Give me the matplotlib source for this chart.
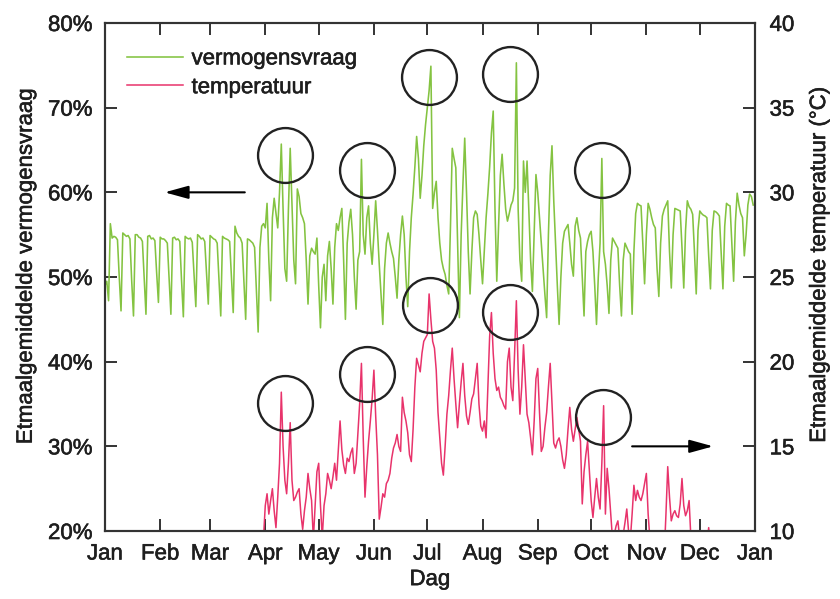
import numpy as np
import matplotlib
matplotlib.use("Agg")
import matplotlib.pyplot as plt
import matplotlib.patheffects as pe
from matplotlib.ticker import PercentFormatter
from matplotlib import transforms

plt.rcParams['font.family'] = ['Liberation Sans', 'DejaVu Sans']

# daily average power demand (% of peak), day 0 = 1 Jan
demand = [
    49.0, 49.5, 47.2, 56.3, 54.6, 54.8, 54.7,
    54.4, 50.0, 46.0, 55.2, 55.0, 54.8, 54.9,
    54.5, 49.5, 45.4, 55.0, 55.0, 54.7, 54.6,
    54.2, 50.0, 45.6, 54.8, 54.9, 54.5, 54.6,
    54.3, 50.5, 47.0, 54.7, 54.5, 54.5, 54.3,
    54.0, 49.8, 45.6, 54.6, 54.7, 54.4, 54.5,
    54.2, 49.5, 45.3, 54.8, 54.6, 54.5, 54.6,
    54.1, 50.2, 46.5, 55.0, 54.8, 54.5, 54.6,
    54.2, 50.5, 46.8, 54.9, 54.7, 54.5, 54.4,
    54.0, 49.6, 45.4, 54.8, 54.6, 54.5, 54.4,
    54.2, 50.0, 45.8, 56.0, 55.2, 54.8, 54.6,
    54.0, 49.5, 45.0, 54.5, 54.4, 54.2, 54.0,
    53.5, 48.5, 43.5, 53.5, 56.0, 56.3, 55.8,
    58.7, 52.0, 47.2, 57.0, 59.3, 57.5, 55.8,
    60.0, 65.7, 58.0, 51.0, 49.5, 58.0, 65.2,
    58.5, 52.0, 49.2, 60.4, 59.5, 57.5, 57.0,
    56.3, 52.0, 46.8, 52.5, 53.4, 53.0, 52.7,
    54.6, 49.0, 44.0, 50.0, 51.5, 47.2, 52.5,
    54.2, 51.0, 46.8, 53.5, 56.3, 55.5, 57.0,
    58.1, 52.0, 45.0, 54.0, 56.5, 58.0, 55.0,
    50.0, 46.2, 52.0, 53.0, 63.9, 55.0, 52.7,
    57.0, 58.4, 54.0, 51.5, 55.0, 59.0, 55.5,
    51.5, 48.0, 44.4, 51.0, 54.0, 55.2, 54.0,
    53.0, 52.2, 50.0, 47.5, 52.0, 55.0, 57.2,
    55.0, 50.0, 46.5, 53.0, 57.0, 59.8, 63.0,
    66.6, 64.0, 59.3, 62.0, 65.5, 68.0, 70.0,
    72.0, 74.9, 58.1, 60.0, 61.3, 57.0, 54.0,
    52.0, 51.0, 50.3, 49.0, 48.0, 56.0, 65.2,
    64.0, 62.9, 54.0, 45.2, 55.0, 61.0, 66.4,
    60.0, 53.0, 48.0, 53.0, 57.0, 57.8, 57.4,
    55.0, 52.0, 49.2, 53.0, 57.0, 59.8, 63.0,
    67.0, 69.6, 58.0, 49.5, 56.0, 62.0, 64.5,
    61.0, 58.0, 56.6, 57.5, 58.5, 59.0, 60.5,
    75.3, 58.0, 52.0, 49.5, 63.7, 60.0, 63.7,
    58.0, 52.0, 48.3, 55.0, 62.1, 60.0, 57.0,
    54.0, 51.0, 48.0, 45.2, 55.0, 62.0, 65.5,
    59.0, 54.0, 49.0, 44.4, 50.0, 54.0, 55.4,
    55.8, 56.2, 54.0, 51.5, 50.1, 56.0, 57.0,
    55.5, 54.6, 50.0, 45.4, 53.0, 54.2, 55.0,
    55.4, 53.0, 49.0, 44.4, 50.0, 54.0, 64.0,
    53.0, 51.5, 49.0, 45.7, 52.0, 54.6, 54.2,
    53.8, 53.4, 49.0, 45.4, 52.0, 54.0, 53.5,
    53.0, 52.7, 45.6, 53.0, 57.5, 58.7, 58.5,
    58.4, 54.0, 49.2, 55.0, 58.7, 58.0, 57.0,
    56.2, 55.8, 51.0, 47.7, 54.0, 57.2, 58.0,
    58.5, 59.0, 53.0, 48.7, 55.0, 58.1, 58.0,
    57.9, 57.8, 53.5, 48.7, 55.5, 59.0, 58.3,
    58.0, 57.4, 53.0, 48.0, 55.5, 57.8, 57.5,
    57.3, 57.2, 57.0, 52.5, 48.6, 55.5, 57.8,
    57.7, 57.5, 57.2, 53.0, 48.6, 56.0, 58.7,
    58.5, 58.4, 54.0, 49.5, 56.5, 59.9, 58.5,
    57.5, 57.0, 52.5, 55.0, 58.5, 59.8, 59.5,
    58.5,
]

# daily average temperature (deg C)
temperature = [
    4.5, 5.2, 3.8, 2.9, 3.5, 4.8, 5.5,
    3.2, 2.1, 1.5, 2.8, 4.0, 5.1, 4.4,
    3.6, 2.9, 3.3, 4.7, 6.2, 5.8, 4.9,
    3.1, 2.4, 3.0, 4.2, 5.0, 6.1, 5.3,
    4.6, 3.8, 2.7, 3.9, 5.4, 6.0, 5.2,
    4.1, 3.5, 4.8, 6.3, 7.0, 6.2, 5.5,
    4.4, 5.1, 6.4, 7.2, 6.6, 5.3, 4.7,
    5.6, 6.8, 7.5, 6.9, 5.8, 5.0, 6.1,
    7.0, 7.8, 6.7, 5.9, 6.6, 7.4, 8.1,
    7.3, 6.5, 7.1, 8.0, 8.6, 7.7, 6.9,
    7.6, 8.3, 8.9, 8.0, 7.4, 8.2, 8.8,
    9.1, 8.4, 7.9, 8.7, 9.3, 8.6, 8.1,
    8.8, 9.4, 9.0, 8.5, 9.2, 9.6, 11.5,
    12.2, 11.0, 11.8, 12.5, 11.2, 10.2, 12.0,
    14.0, 18.2, 15.0, 13.0, 12.2, 14.0, 16.4,
    13.0, 11.8, 12.0, 12.3, 12.5, 11.0, 10.1,
    11.2, 12.0, 13.4, 12.5, 11.8, 9.5, 11.5,
    13.5, 14.0, 11.5, 9.6, 11.5, 12.2, 13.4,
    13.0, 12.5, 13.2, 14.0, 13.0, 14.8, 16.5,
    14.8, 13.9, 13.4, 14.3, 14.1, 14.6, 14.9,
    13.4, 14.0, 15.8, 17.5, 19.9, 15.5, 12.0,
    13.8, 15.3, 16.5, 17.8, 19.5, 16.8, 14.5,
    10.7, 11.4, 12.2, 12.0, 12.8, 13.0, 13.4,
    14.3, 14.9, 15.2, 15.7, 15.0, 14.7, 17.9,
    17.0, 16.5, 15.8, 14.5, 14.1, 16.0, 18.5,
    20.2, 19.8, 19.4, 20.5, 21.2, 21.4, 21.6,
    24.0, 22.5, 21.2, 20.8, 19.5, 17.0, 15.5,
    14.0, 13.3, 15.0, 16.9, 18.0, 19.5, 20.8,
    19.0, 17.5, 16.1, 17.5, 18.8, 19.9, 18.0,
    16.8, 16.3, 17.0, 17.8, 18.1, 19.0, 19.9,
    17.5, 16.2, 15.9, 16.5, 15.5, 18.5, 21.5,
    22.9, 20.5, 19.0, 18.3, 18.5, 17.9, 17.7,
    17.4, 17.2, 20.0, 20.8, 18.5, 17.7, 20.5,
    23.6, 19.5, 16.9, 18.5, 21.0, 19.0, 16.9,
    16.4, 15.5, 14.5, 16.5, 19.0, 19.6, 17.0,
    14.7, 15.0, 16.1, 17.0, 18.5, 19.9, 17.5,
    15.2, 14.9, 15.3, 15.5, 15.0, 14.2, 13.7,
    14.5, 16.0, 17.3, 16.0, 15.3, 16.0, 16.7,
    16.0, 15.3, 11.6, 13.5, 14.5, 15.3, 13.5,
    11.8, 10.8, 12.0, 13.1, 12.0, 11.3, 14.0,
    17.4, 11.0, 13.7, 12.5, 11.0, 9.5, 9.8,
    10.3, 10.6, 9.6, 9.4, 9.8, 10.5, 11.3,
    10.0, 9.5, 11.0, 12.7, 11.8, 12.4, 12.0,
    11.8, 12.2, 12.8, 13.4, 11.0, 9.5, 8.5,
    8.0, 9.0, 8.2, 7.5, 8.8, 9.2, 8.5,
    11.0, 13.8, 12.0, 10.6, 11.0, 11.2, 10.9,
    10.8, 11.6, 13.1, 11.5, 10.9, 11.2, 11.8,
    9.6, 8.5, 7.8, 8.2, 7.0, 6.5, 7.4,
    8.1, 8.8, 9.3, 10.2, 9.0, 8.2, 7.1,
    6.4, 5.8, 6.6, 7.3, 6.0, 5.2, 4.6,
    5.5, 6.3, 5.0, 4.2, 3.5, 4.4, 5.6,
    6.2, 5.1, 4.0, 3.3, 4.5, 5.4, 6.0,
    5.2,
]

month_starts = [0, 31, 59, 90, 120, 151, 181, 212, 243, 273, 304, 334, 365]
month_names = ['Jan', 'Feb', 'Mar', 'Apr', 'May', 'Jun', 'Jul', 'Aug',
               'Sep', 'Oct', 'Nov', 'Dec', 'Jan']

# circled peaks (centre day)
demand_circles = [101, 147, 182, 227.5, 279]
temp_circles = [101, 147, 182.5, 227.5, 279.5]

days = np.arange(len(demand))
demand = np.array(demand)
temperature = np.array(temperature)

green = '#84c341'
red = '#e8336b'
dark = '#333333'
txt = '#1e1e1e'
fs = 16

fig = plt.figure(figsize=(8.4, 5.99), dpi=100)
ax = fig.add_axes([0.125, 0.1135, 0.7738, 0.8481])
ax2 = ax.twinx()

l1, = ax.plot(days, demand, color=green, lw=1.15, label='vermogensvraag')
l2, = ax2.plot(days, temperature, color=red, lw=1.1, label='temperatuur')

ax.set_xlim(0, 365)
ax.set_ylim(20, 80)
ax2.set_ylim(10, 40)
ax.set_yticks(np.arange(20, 81, 10))
ax2.set_yticks(np.arange(10, 41, 5))
ax.yaxis.set_major_formatter(PercentFormatter(xmax=100, decimals=0))
ax.set_xticks(month_starts)
ax.set_xticklabels(month_names)

ax.tick_params(axis='x', direction='in', top=True, length=8.5, width=1.4,
               color=dark, labelsize=fs, labelcolor=txt, pad=9)
ax.tick_params(axis='y', direction='in', length=8.5, width=1.4,
               color=dark, labelsize=fs, labelcolor=txt, pad=9)
ax2.tick_params(axis='y', direction='in', length=8.5, width=1.4,
                color=dark, labelsize=fs, labelcolor=txt, pad=10.5)
for a in (ax, ax2):
    for s in a.spines.values():
        s.set_color(dark)
        s.set_linewidth(1.5)

ax.set_xlabel('Dag', fontsize=fs, color=txt)
ax.set_ylabel('Etmaalgemiddelde vermogensvraag', fontsize=fs, color=txt)
ax2.set_ylabel('Etmaalgemiddelde temperatuur (°C)', fontsize=fs, color=txt)
ax.xaxis.set_label_coords(0.5, -0.075)
ax.yaxis.set_label_coords(-0.105, 0.522)
ax2.yaxis.set_label_coords(1.083, 0.525)

# circles around the peaks, centred a bit below the peak value
def draw_circles(a, series, centres):
    shifted = transforms.offset_copy(a.transData, fig=fig, x=0, y=-8, units='points')
    for c in centres:
        win = (days >= c - 4) & (days <= c + 4)
        a.plot(c, series[win].max(), marker='o', ms=39.5, mfc='none',
               mec='#222222', mew=1.7, transform=shifted, clip_on=False, zorder=5)

draw_circles(ax, demand, demand_circles)
draw_circles(ax2, temperature, temp_circles)

arrow = dict(arrowstyle='-|>,head_length=0.8,head_width=0.22', color='black',
             lw=1.5, mutation_scale=18, shrinkA=0, shrinkB=0)
ax.annotate('', xy=(33.5, 60), xytext=(78.5, 60), arrowprops=arrow)
ax2.annotate('', xy=(341.5, 15), xytext=(296, 15), arrowprops=arrow)

leg = ax2.legend(handles=[l1, l2], loc='upper left', bbox_to_anchor=(0.034, 0.950),
                 frameon=False, fontsize=fs, handlelength=2.5, handletextpad=0.4,
                 labelspacing=0.35, borderpad=0, borderaxespad=0)
for t in leg.get_texts():
    t.set_color(txt)

# slightly heavier text, like the original print
for t in fig.findobj(matplotlib.text.Text):
    t.set_path_effects([pe.withStroke(linewidth=0.4, foreground=txt)])

fig.savefig('out.png', dpi=100)
